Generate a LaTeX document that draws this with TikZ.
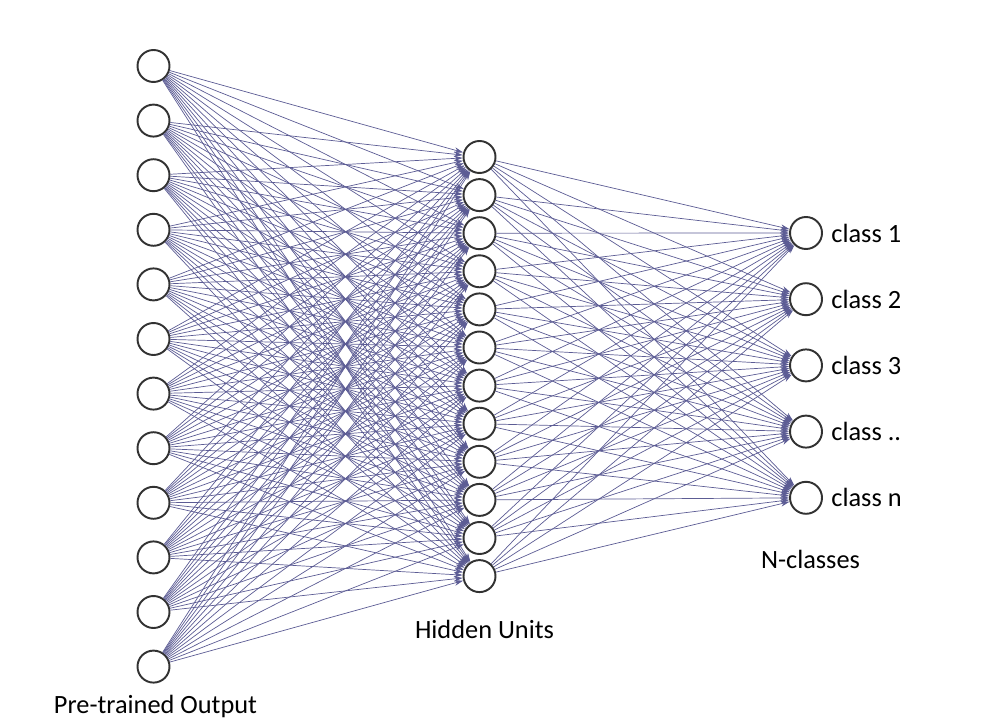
\documentclass[tikz,border=0pt]{standalone}
\usepackage{fontspec}
\setmainfont{Carlito}
\usetikzlibrary{arrows.meta, positioning}
\definecolor{edgecol}{RGB}{92,92,148}
\definecolor{ringcol}{RGB}{50,50,50}

\begin{document}
\begin{tikzpicture}[x=0.02cm, y=-0.02cm, >={Stealth[length=5pt, width=3.2pt]},
                        neuron/.style={draw=ringcol, circle, line width=1.1pt,
                                                fill=white, minimum size=0.64cm, inner sep=0pt},
                        lbl/.style={inner sep=0pt, font=\fontsize{15}{18}\selectfont},
                        edge/.style={->, draw=edgecol, line width=0.4pt}]
            \useasboundingbox (0,0) rectangle (986,719);

            % input layer
            \foreach \i in {1,...,12}
                \node[neuron] (in\i) at (153.5, {66+54.6*(\i-1)}) {};
            % hidden layer
            \foreach \j in {1,...,12}
                \node[neuron] (hid\j) at (479.5, {157+38.1*(\j-1)}) {};
            % output layer
            \foreach \k in {1,...,5}
                \node[neuron] (out\k) at (806, {233+66.2*(\k-1)}) {};

            \foreach \i in {1,...,12}
                \foreach \j in {1,...,12}
                    \draw[edge] (in\i) -- (hid\j);
            \foreach \j in {1,...,12}
                \foreach \k in {1,...,5}
                    \draw[edge] (hid\j) -- (out\k);

            \node[lbl, right=4.6pt of out1] (c1) {class 1};
            \node[lbl, right=4.6pt of out2] (c2) {class 2};
            \node[lbl, right=4.6pt of out3] (c3) {class 3};
            \node[lbl, right=4.6pt of out4] (c4) {class ..};
            \node[lbl, right=4.6pt of out5] (c5) {class n};

            \node[lbl, anchor=base] (ncl) at (810.5, 568) {N-classes};
            \node[lbl, anchor=base] (hu) at (484.5, 638) {Hidden Units};
            \node[lbl, anchor=base] (pto) at (155.5, 713) {Pre-trained Output};
\end{tikzpicture}
\end{document}
